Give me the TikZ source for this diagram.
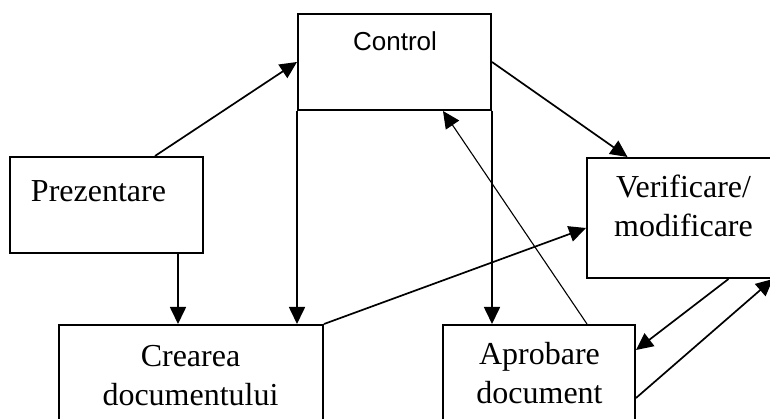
\documentclass[tikz,border=0pt]{standalone}
\usepackage{fontspec}
\setmainfont{Liberation Serif}
\newfontfamily\arialfont{Liberation Sans}
\usetikzlibrary{arrows.meta}

\begin{document}
\begin{tikzpicture}[x=1pt, y=1pt,
    box/.style={rectangle, draw, line width=2pt, inner sep=0pt},
    txt/.style={align=center, inner sep=0pt, font=\fontsize{32}{39}\selectfont},
    conn/.style={line width=1.7pt, -{Triangle[length=17pt,width=16pt]}}]
      \useasboundingbox (0,0) rectangle (770,419);
      \clip (0,0) rectangle (770,419);
      \node (control)[box, minimum width=193pt, minimum height=96pt] at (394.5,357) {};
      \node (prez)[box, minimum width=193pt, minimum height=96pt] at (106.5,214) {};
      \node (crearea)[box, minimum width=264pt, minimum height=114pt] at (191,37) {};
      \node (verif)[box, minimum width=213pt, minimum height=120pt] at (693.5,201) {};
      \node (aprob)[box, minimum width=192pt, minimum height=114pt] at (539,37) {};
      \node (controlT)[inner sep=0pt] at (395,378) {\arialfont\fontsize{26}{30}\selectfont Control};
      \node (prezT)[txt] at (98.5,228) {Prezentare};
      \node (creareaT)[txt] at (190.5,43) {Crearea\\documentului};
      \node (verifT)[txt] at (683.5,213) {Verificare/\\modificare};
      \node (aprobT)[txt] at (539.5,46) {Aprobare\\document};
      \draw[conn] ([xshift=48.5pt]prez.north) -- (control.west);
      \draw[conn] (control.east) -- ([xshift=-66pt]verif.north);
      \draw[conn] ([xshift=71.5pt]prez.south) -- ([xshift=71.5pt]prez.south |- crearea.north);
      \draw[conn] (control.south west) -- (control.south west |- crearea.north);
      \draw[conn] (control.south east) -- (control.south east |- aprob.north);
      \draw[conn] (crearea.north east) -- ([yshift=-10pt]verif.west);
      \draw[conn, line width=1.1pt] ([xshift=48pt]aprob.north) -- ([xshift=48.5pt]control.south);
      \draw[conn] ([xshift=35pt]verif.south) -- ([yshift=32pt]aprob.east);
      \draw[conn] ([yshift=-16pt]aprob.east) -- ([xshift=-28pt]verif.south east);
    \end{tikzpicture}
\end{document}
